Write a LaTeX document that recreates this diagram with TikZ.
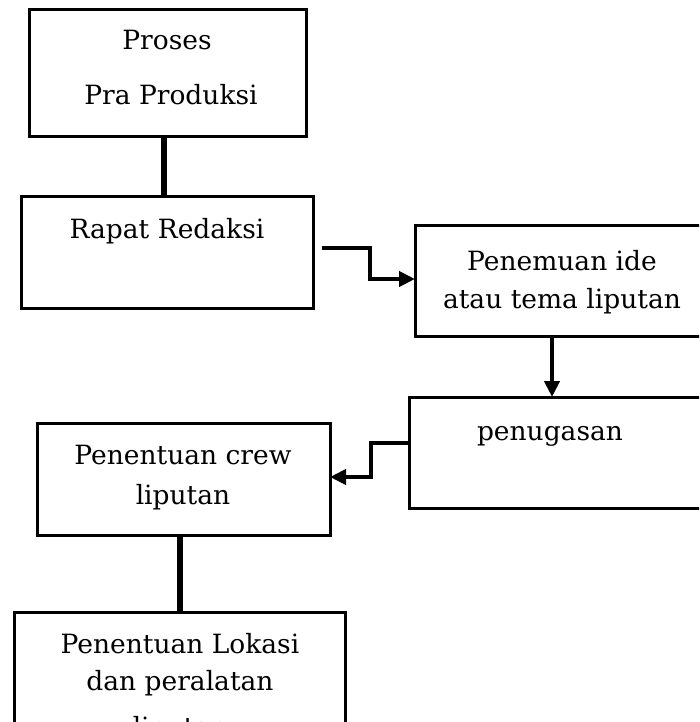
\documentclass[tikz,border=0pt]{standalone}
\usepackage{fontspec}
\setmainfont{DejaVu Serif}
\usetikzlibrary{arrows.meta}
\begin{document}
\begin{tikzpicture}[x=1pt,y=-1pt,
  box/.style={draw, line width=3pt, rectangle, inner sep=0pt, outer sep=0pt, anchor=north west},
  txt/.style={anchor=base, inner sep=0pt, font=\fontsize{26.5}{37}\selectfont},
  plainlink/.style={line width=5.5pt},
  arrowlink/.style={line width=4pt, -{Triangle[length=16pt,width=15pt]}}]
\useasboundingbox (0,0) rectangle (699,722);
\clip (0,0) rectangle (699,722);
% boxes
\node[box, minimum width=277pt, minimum height=127pt] (b1) at (29,10) {};
\node[box, minimum width=292pt, minimum height=112pt] (b2) at (21,196) {};
\node[box, minimum width=300pt, minimum height=111pt] (b3) at (415,225) {};
\node[box, minimum width=300pt, minimum height=111pt] (b4) at (409,397) {};
\node[box, minimum width=293pt, minimum height=112pt] (b5) at (37,423) {};
\node[box, minimum width=331pt, minimum height=140pt] (b6) at (14,612) {};
% texts
\node[txt] (t1a) at (167,50) {Proses};
\node[txt] (t1b) at (171,105) {Pra Produksi};
\node[txt] (t2) at (167,238) {Rapat Redaksi};
\node[txt] (t3a) at (562,270) {Penemuan ide};
\node[txt] (t3b) at (562,308) {atau tema liputan};
\node[txt] (t4) at (550,440) {penugasan};
\node[txt] (t5a) at (183,464) {Penentuan crew};
\node[txt] (t5b) at (183,504) {liputan};
\node[txt] (t6a) at (180,653) {Penentuan Lokasi};
\node[txt] (t6b) at (180,690) {dan peralatan};
\node[txt] (t6c) at (180,736) {liputan};
% connectors
\draw[plainlink] (b1.south -| 164,0) -- (b2.north -| 164,0);
\coordinate (s2) at (322,248);
\draw[arrowlink] (s2) -- (370,248) -- (370,279) -- (b3.west |- 0,279);
\draw[arrowlink] (b3.south -| 552,0) -- (b4.north -| 552,0);
\draw[arrowlink] (b4.west |- 0,443) -- (371,443) -- (371,477) -- (b5.east |- 0,477);
\draw[plainlink] (b5.south -| 180,0) -- (b6.north -| 180,0);
\end{tikzpicture}
\end{document}
